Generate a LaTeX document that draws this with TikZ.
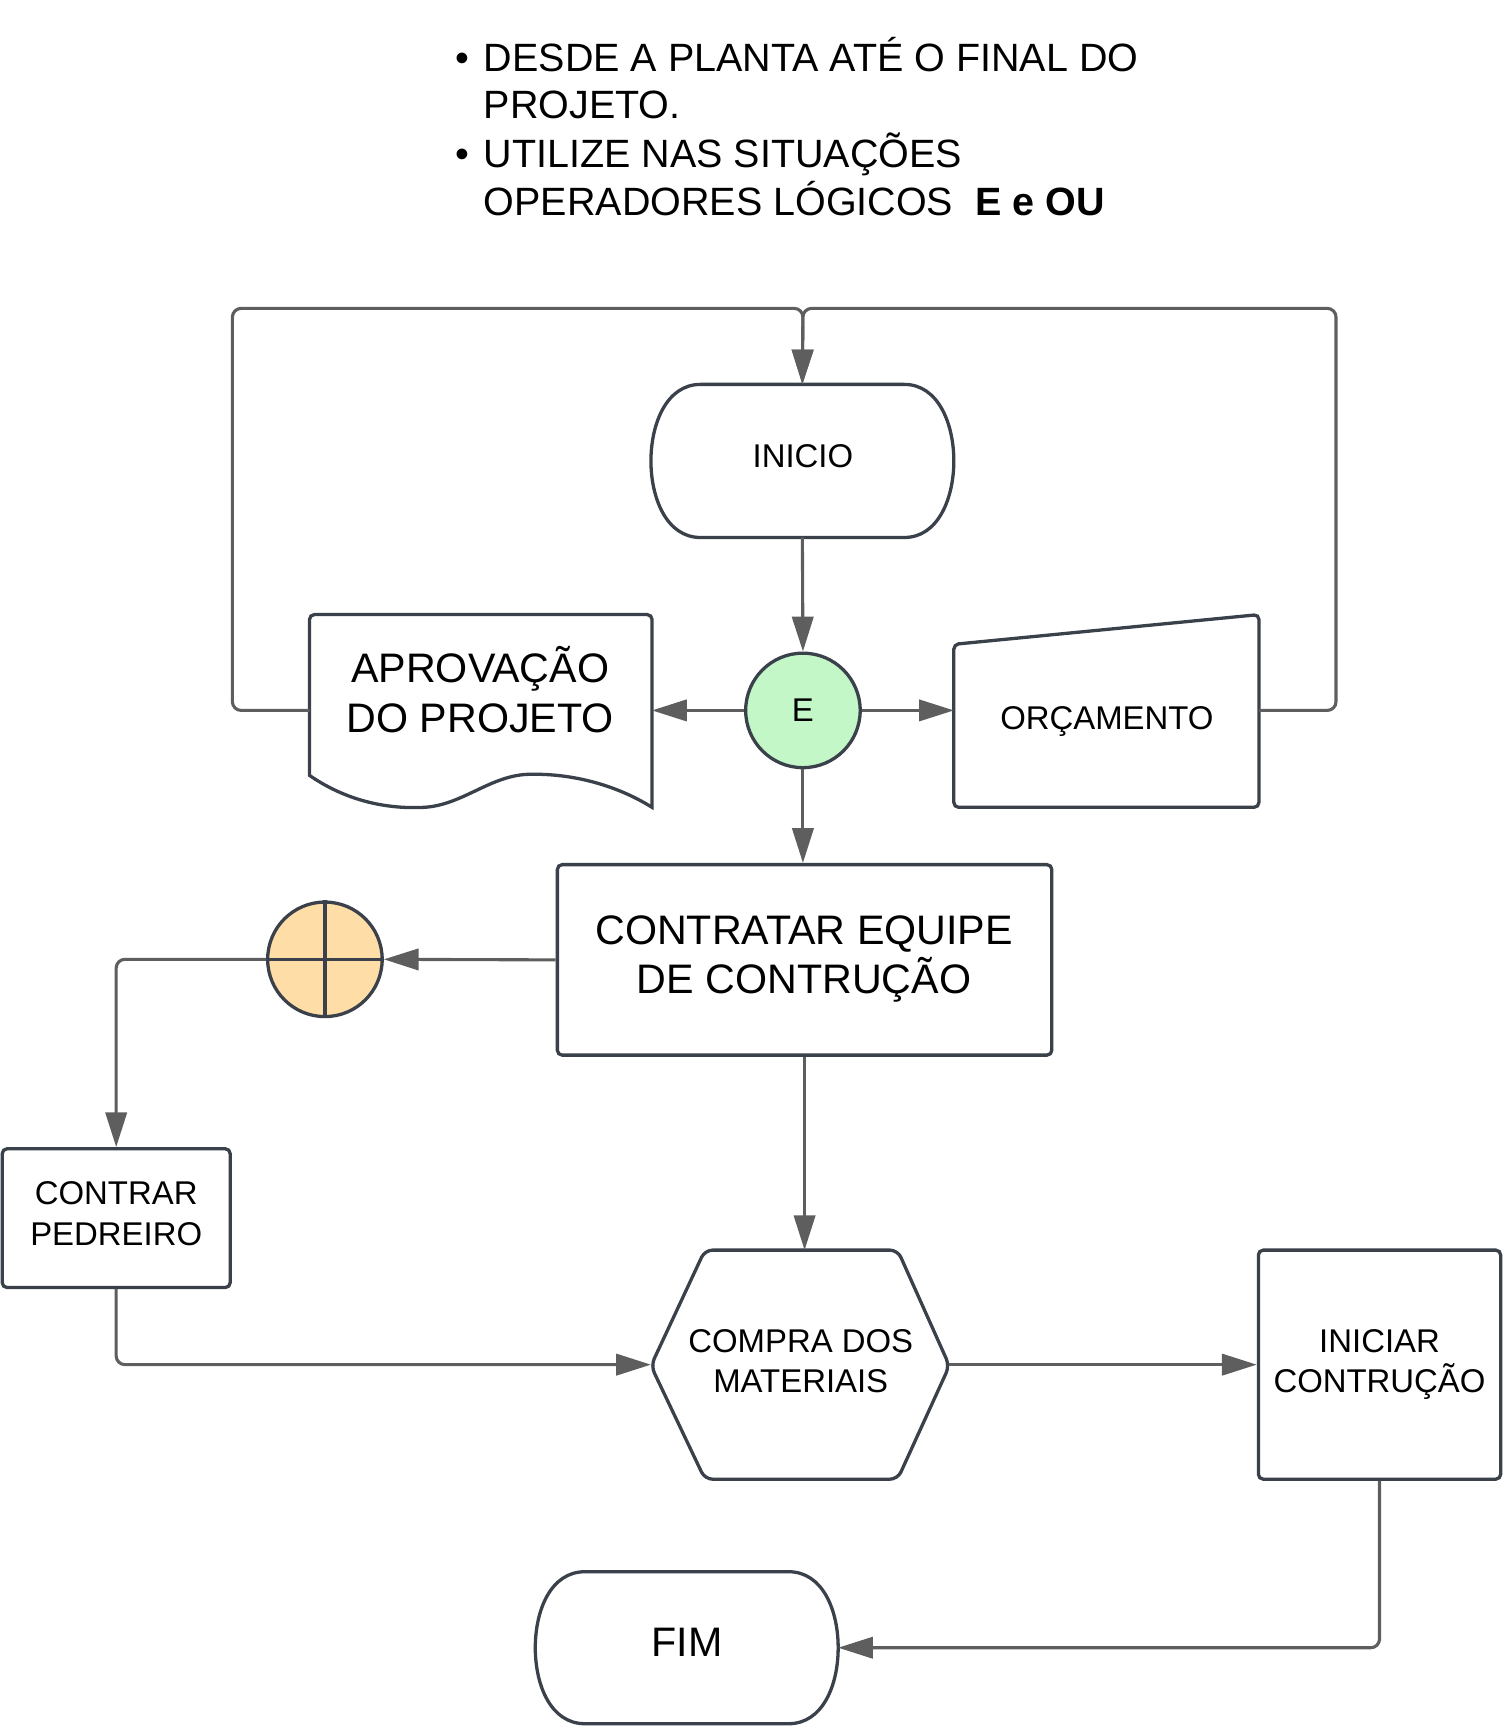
\documentclass[tikz,border=0pt]{standalone}
\usepackage{fontspec}
\setmainfont{Liberation Sans}
\usetikzlibrary{arrows.meta,shapes.geometric,calc}
\definecolor{bord}{HTML}{3A414A}
\definecolor{conn}{HTML}{5E5E5E}
\definecolor{egreen}{HTML}{C3F7C8}
\definecolor{oorange}{HTML}{FFDDA6}
\begin{document}
\begin{tikzpicture}[x=0.02cm,y=-0.02cm,
  shp/.style={draw=bord,line width=1.7pt,fill=white,rounded corners=2.5pt},
  cn/.style={draw=conn,line width=1.6pt,rounded corners=4.5pt,-{Triangle[length=18pt,width=11pt]}},
  bigt/.style={font=\fontsize{21.3}{25.5}\selectfont,align=center,text=black},
  midt/.style={font=\fontsize{17}{21}\selectfont,align=center,text=black},
  topt/.style={font=\fontsize{20.4}{25}\selectfont,anchor=base west,inner sep=0pt,text=black},
  anch/.style={draw=none,inner sep=0pt,outer sep=0pt}
]
\useasboundingbox (0,0) rectangle (1364,1568);

% ---- top text
\node[topt] (b1) at (413,65) {•};
\node[topt] (t1) at (439,65) {DESDE A PLANTA ATÉ O FINAL DO};
\node[topt] (t2) at (439,108) {PROJETO.};
\node[topt] (b2) at (413,152) {•};
\node[topt] (t3) at (439,152) {UTILIZE NAS SITUAÇÕES};
\node[topt] (t4) at (439,196) {OPERADORES LÓGICOS\ \ \textbf{E e OU}};

% ---- shapes drawn as paths
% INICIO terminator
\draw[shp,rounded corners=0pt] (636,349) -- (821,349) .. controls (852,349) and (866,385) .. (866,418.5)
  .. controls (866,452) and (852,488) .. (821,488) -- (636,488)
  .. controls (605,488) and (591,452) .. (591,418.5) .. controls (591,385) and (605,349) .. (636,349) -- cycle;
% FIM terminator
\draw[shp,rounded corners=0pt] (531,1427) -- (716,1427) .. controls (747,1427) and (761,1462) .. (761,1496)
  .. controls (761,1530) and (747,1565) .. (716,1565) -- (531,1565)
  .. controls (500,1565) and (486,1530) .. (486,1496) .. controls (486,1462) and (500,1427) .. (531,1427) -- cycle;
% document
\draw[shp] (281,704) -- (281,558) -- (592,558) [rounded corners=0pt] -- (592,733)
  .. controls (560,713) and (520,702) .. (480,703) .. controls (445,704) and (420,731) .. (385,733)
  .. controls (345,735) and (310,724) .. (281,704) -- cycle;
% manual input
\draw[shp] (866,733) -- (866,585) -- (1143,558) -- (1143,733) -- cycle;
% hexagon
\draw[shp,rounded corners=4pt] (640,1135) -- (815,1135) -- (862,1240) -- (815,1343) -- (640,1343) -- (591,1240) -- cycle;

% ---- nodes
\node[anch,minimum width=5.5cm,minimum height=2.78cm] (inicio) at (728.5,418.5) {};
\node[midt] (iniciot) at (729,414) {INICIO};
\node[anch,minimum width=5.5cm,minimum height=2.76cm] (fim) at (623.5,1496) {};
\node[bigt] (fimt) at (624,1491) {FIM};
\node[anch,minimum width=6.22cm,minimum height=3.5cm] (doc) at (436.5,645.5) {};
\node[bigt] (doct) at (436,626) {APROVAÇÃO\\DO PROJETO};
\node[anch,minimum width=5.54cm,minimum height=3.5cm] (orc) at (1004.5,645.5) {};
\node[midt] (orct) at (1005,655) {ORÇAMENTO};
\node[anch,minimum width=5.42cm,minimum height=4.16cm] (hex) at (726.5,1239) {};
\node[midt] (hext) at (727,1236) {COMPRA DOS\\MATERIAIS};

\node[circle,draw=bord,line width=1.7pt,fill=egreen,minimum size=2.08cm,inner sep=0pt,midt] (eand) at (729,645) {E};
\node[draw=bord,line width=1.7pt,fill=white,rounded corners=2.5pt,minimum width=8.98cm,minimum height=3.46cm] (contr) at (730.5,871.5) {};
\node[bigt] (contrt) at (730,870.5) {CONTRATAR EQUIPE\\DE CONTRUÇÃO};
\node[circle,draw=bord,line width=1.7pt,fill=oorange,minimum size=2.08cm,inner sep=0pt] (ou) at (295,871) {};
\draw[draw=bord,line width=1.7pt] (ou.north) -- (ou.south) (ou.west) -- (ou.east);
\node[draw=bord,line width=1.7pt,fill=white,rounded corners=2.5pt,minimum width=4.14cm,minimum height=2.52cm] (ped) at (105.5,1106) {};
\node[midt] (pedt) at (105.5,1102) {CONTRAR\\PEDREIRO};
\node[draw=bord,line width=1.7pt,fill=white,rounded corners=2.5pt,minimum width=4.4cm,minimum height=4.16cm,midt] (ini) at (1252.5,1239) {INICIAR\\CONTRUÇÃO};

% ---- connectors
\coordinate (tl) at (211,280);
\coordinate (tr) at (1213,280);
\coordinate (tm) at (729,280);
\draw[cn] (doc.west |- eand) -- (eand -| tl) -- (tl) -- (tm) -- (inicio.north);
\draw[cn] (orc.east |- eand) -- (eand -| tr) -- (tr) -- (tm) -- (inicio.north);
\draw[cn] (inicio.south) -- (eand.north);
\draw[cn] (eand.west) -- (eand -| doc.east);
\draw[cn] (eand.east) -- (eand -| orc.west);
\draw[cn] (eand.south) -- (eand.south |- contr.north);
\draw[cn] (contr.west) -- (ou.east);
\draw[cn] (ou.west) -| (ped.north);
\draw[cn] (ped.south) |- (hex.west);
\draw[cn] (contr.south) -- (contr.south |- hex.north);
\draw[cn] (hex.east) -- (hex -| ini.west);
\draw[cn] (ini.south) |- (fim.east);
\end{tikzpicture}
\end{document}
